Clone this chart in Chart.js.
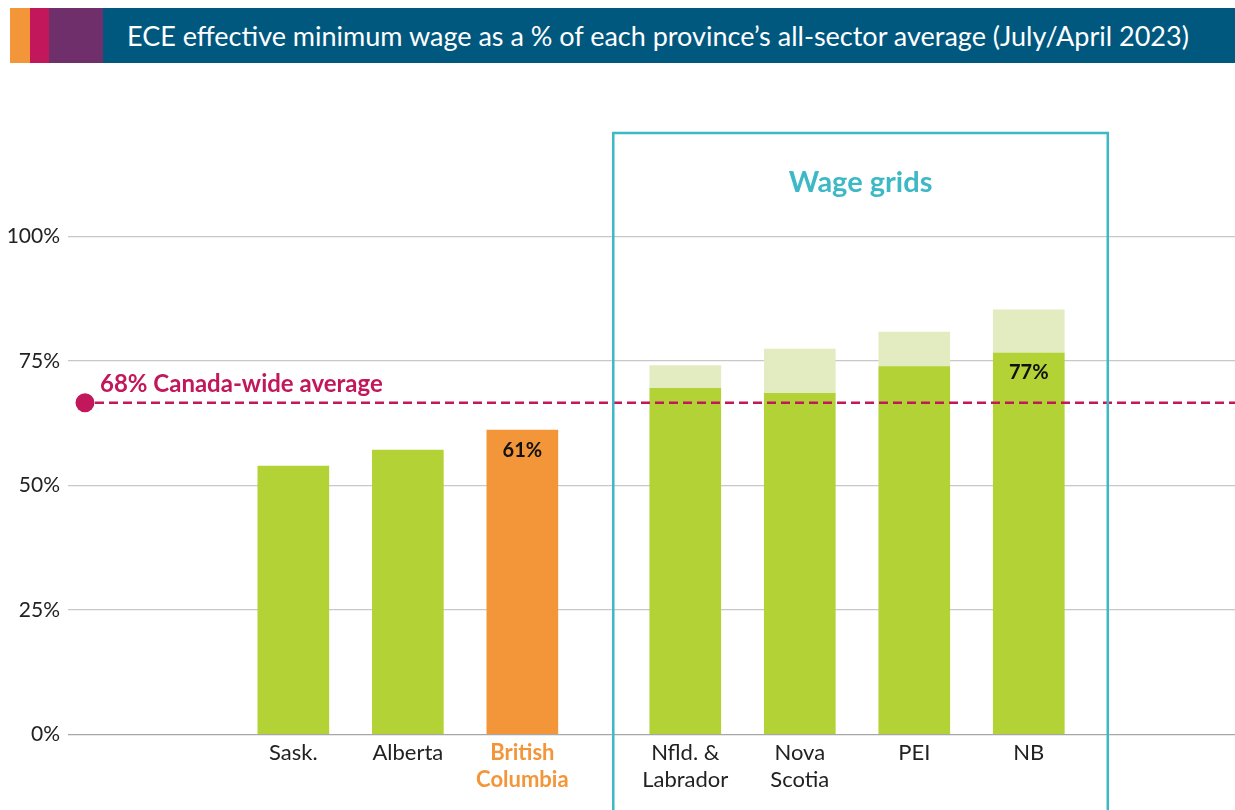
<!DOCTYPE html>
<html>
<head>
<meta charset="utf-8">
<title>ECE effective minimum wage</title>
<script src="https://cdn.jsdelivr.net/npm/chart.js@4.4.0/dist/chart.umd.min.js"></script>
<style>
    html, body { margin: 0; padding: 0; background: #fff; }
    #wrap { position: relative; width: 1235px; height: 810px; overflow: hidden; }
    #header { position: absolute; left: 10px; top: 8px; width: 1225px; height: 55px; display: flex; }
    #header .b1 { width: 20px; background: #F39539; }
    #header .b2 { width: 19px; background: #C2185B; }
    #header .b3 { width: 54px; background: #6E2F6A; }
    #header .title {
        flex: 1; background: #00587F; color: #fff;
        font-family: Lato, "Open Sans", sans-serif; font-size: 27px;
        display: flex; align-items: center; padding-left: 24px;
    }
    #chart { position: absolute; left: 0; top: 0; }
</style>
</head>
<body>
<div id="wrap">
    <canvas id="chart" width="1235" height="810"></canvas>
    <div id="header">
        <div class="b1"></div><div class="b2"></div><div class="b3"></div>
        <div class="title">ECE effective minimum wage as a % of each province’s all-sector average (July/April 2023)</div>
    </div>
</div>
<script>
// === Data ===
const provinces = [['Sask.'], ['Alberta'], ['British', 'Columbia'], ['Nfld. &', 'Labrador'], ['Nova', 'Scotia'], ['PEI'], ['NB']];
const minWage = [53.9, 57.1, 61.1, 69.5, 68.5, 73.9, 76.6];     // effective minimum (%)
const gridTop = [null, null, null, 74.1, 77.4, 80.8, 85.3];       // top of wage grid (%)
const barLabels = ['', '', '61%', '', '', '', '77%'];
const yTicks = [0, 25, 50, 75, 100];
const canadaAverage = 66.6;
const canadaLabel = '68% Canada-wide average';
const boxTitle = 'Wage grids';

// === Layout / style ===
const HIGHLIGHT = 2;          // British Columbia
const GRID_START = 3;         // first province with a wage grid
const GROUP_GAP = 0.423;      // extra space before the wage-grid group
const FONT = 'Lato, "Open Sans", sans-serif';
const GREEN = '#B2D235';
const LIGHT_GREEN = '#E2ECC0';
const ORANGE = '#F39539';
const MAGENTA = '#C2185B';
const TEAL = '#3DB8C5';
const TEXT = '#222222';

const slot = i => i + (i >= GRID_START ? GROUP_GAP : 0);

const overlay = {
    id: 'overlay',
    afterDatasetsDraw(chart) {
        const { ctx, chartArea, scales } = chart;
        const x = scales.x, y = scales.y;
        ctx.save();

        // bar value labels
        const meta = chart.getDatasetMeta(0);
        ctx.fillStyle = '#111';
        ctx.font = `bold 20px ${FONT}`;
        ctx.textAlign = 'center';
        ctx.textBaseline = 'middle';
        meta.data.forEach((bar, i) => {
            if (barLabels[i]) ctx.fillText(barLabels[i], bar.x, bar.y + 20);
        });

        // Canada-wide average line
        const ay = y.getPixelForValue(canadaAverage);
        const dotX = chartArea.left + 17;
        ctx.strokeStyle = MAGENTA;
        ctx.lineWidth = 2.5;
        ctx.setLineDash([9, 5]);
        ctx.beginPath();
        ctx.moveTo(dotX + 10, ay);
        ctx.lineTo(chartArea.right, ay);
        ctx.stroke();
        ctx.setLineDash([]);
        ctx.fillStyle = MAGENTA;
        ctx.beginPath();
        ctx.arc(dotX, ay, 9.5, 0, Math.PI * 2);
        ctx.fill();
        ctx.font = `bold 24px ${FONT}`;
        ctx.textAlign = 'left';
        ctx.textBaseline = 'alphabetic';
        ctx.fillText(canadaLabel, dotX + 15, ay - 11);

        // wage grids box
        const left = x.getPixelForValue(slot(GRID_START)) - 72;
        const right = x.getPixelForValue(slot(provinces.length - 1)) + 79;
        const top = chartArea.top - 4;
        ctx.strokeStyle = TEAL;
        ctx.lineWidth = 2.5;
        ctx.strokeRect(left, top, right - left, chart.height + 20 - top);
        ctx.fillStyle = TEAL;
        ctx.font = `bold 29px ${FONT}`;
        ctx.textAlign = 'center';
        ctx.fillText(boxTitle, (left + right) / 2, top + 59);

        ctx.restore();
    }
};

new Chart(document.getElementById('chart'), {
    type: 'bar',
    data: {
        datasets: [
            {
                data: minWage.map((v, i) => ({ x: slot(i), y: v })),
                backgroundColor: minWage.map((v, i) => i === HIGHLIGHT ? ORANGE : GREEN),
                barThickness: 71
            },
            {
                data: gridTop.map((v, i) => ({ x: slot(i), y: v === null ? null : v - minWage[i] })),
                backgroundColor: LIGHT_GREEN,
                barThickness: 71
            }
        ]
    },
    options: {
        responsive: false,
        animation: false,
        layout: { padding: { top: 137, left: 0, right: 0, bottom: 0 } },
        plugins: {
            legend: { display: false },
            tooltip: { enabled: false }
        },
        scales: {
            x: {
                type: 'linear',
                min: -1.968,
                max: 8.224,
                offset: false,
                stacked: true,
                grid: { display: false },
                border: { display: false },
                afterBuildTicks: s => { s.ticks = provinces.map((p, i) => ({ value: slot(i) })); },
                afterFit: s => { s.height = 75.7; },
                ticks: {
                    autoSkip: false,
                    maxRotation: 0,
                    padding: -3,
                    callback: (v, i) => provinces[i],
                    color: c => c.index === HIGHLIGHT ? ORANGE : TEXT,
                    font: c => ({ family: FONT, size: 22, weight: c.index === HIGHLIGHT ? 'bold' : 'normal', lineHeight: 1.24 })
                }
            },
            y: {
                min: 0,
                max: 120,
                stacked: true,
                border: { display: false },
                grid: {
                    drawTicks: false,
                    lineWidth: 1.3,
                    color: c => c.tick && c.tick.value === 0 ? '#A6A6A6' : '#C8C8C8'
                },
                afterBuildTicks: s => { s.ticks = yTicks.map(v => ({ value: v })); },
                afterFit: s => { s.width = 68; },
                ticks: {
                    padding: 8,
                    color: TEXT,
                    font: { family: FONT, size: 21 },
                    callback: v => v + '%'
                }
            }
        }
    },
    plugins: [overlay]
});
</script>
</body>
</html>
